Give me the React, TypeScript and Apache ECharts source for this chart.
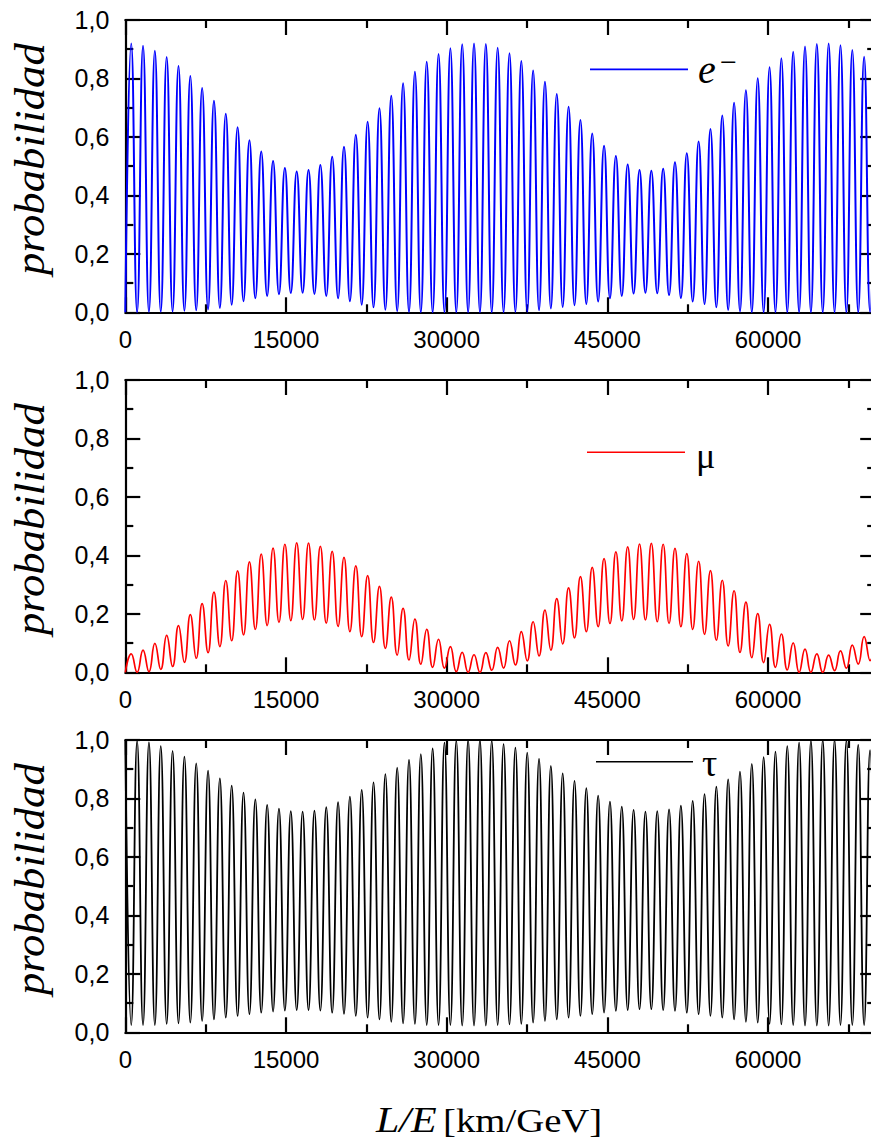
import React, { useEffect, useRef } from "react";
import * as echarts from "echarts";

// Positions (km/GeV) of successive extrema (half-periods of the fast oscillation)
const X_EXTREMA = [
  0, 552, 1103, 1655, 2207, 2759, 3310, 3862, 4414, 4965,
  5517, 6069, 6620, 7172, 7724, 8276, 8827, 9379, 9931, 10482,
  11034, 11586, 12137, 12689, 13241, 13793, 14344, 14896, 15448, 15999,
  16551, 17103, 17654, 18206, 18758, 19310, 19861, 20413, 20965, 21516,
  22068, 22620, 23171, 23723, 24275, 24827, 25378, 25930, 26482, 27033,
  27585, 28137, 28688, 29240, 29792, 30344, 30895, 31447, 31999, 32550,
  33102, 33654, 34205, 34757, 35309, 35861, 36412, 36964, 37516, 38067,
  38619, 39171, 39722, 40274, 40826, 41378, 41929, 42481, 43033, 43584,
  44136, 44688, 45239, 45791, 46343, 46895, 47446, 47998, 48550, 49101,
  49653, 50205, 50756, 51308, 51860, 52412, 52963, 53515, 54067, 54618,
  55170, 55722, 56273, 56825, 57377, 57929, 58480, 59032, 59584, 60135,
  60687, 61239, 61790, 62342, 62894, 63446, 63997, 64549, 65101, 65652,
  66204, 66756, 67307, 67859, 68411, 68963, 69514, 70066,
];

// e- : maxima (odd extrema) and minima (even extrema)
const E_PEAKS = [
  0.92, 0.912, 0.895, 0.873, 0.843, 0.808, 0.767, 0.724, 0.679, 0.633,
  0.589, 0.55, 0.518, 0.494, 0.482, 0.487, 0.504, 0.532, 0.566, 0.607,
  0.652, 0.698, 0.741, 0.784, 0.823, 0.857, 0.884, 0.903, 0.917, 0.92,
  0.918, 0.905, 0.886, 0.86, 0.827, 0.789, 0.747, 0.703, 0.658, 0.612,
  0.57, 0.535, 0.506, 0.487, 0.484, 0.491, 0.513, 0.544, 0.584, 0.627,
  0.673, 0.717, 0.76, 0.801, 0.838, 0.869, 0.891, 0.909, 0.918, 0.92,
  0.914, 0.897, 0.874, 0.845,
];
const E_TROUGHS = [
  0, 0, 0.001, 0.002, 0.003, 0.005, 0.007, 0.01, 0.015, 0.026,
  0.038, 0.048, 0.056, 0.062, 0.066, 0.067, 0.063, 0.056, 0.048, 0.038,
  0.026, 0.017, 0.009, 0.004, 0.001, 0, 0, 0, 0, 0,
  0, 0, 0, 0.001, 0.002, 0.007, 0.013, 0.018, 0.024, 0.028,
  0.037, 0.048, 0.056, 0.064, 0.067, 0.065, 0.059, 0.049, 0.037, 0.028,
  0.017, 0.008, 0.003, 0, 0, 0, 0, 0, 0, 0,
  0, 0, 0, 0.001,
];

// mu : maxima (odd extrema) and minima (even extrema)
const MU_PEAKS = [
  0.063, 0.076, 0.099, 0.126, 0.16, 0.197, 0.235, 0.274, 0.314, 0.347,
  0.378, 0.404, 0.425, 0.438, 0.443, 0.442, 0.431, 0.414, 0.393, 0.364,
  0.331, 0.294, 0.257, 0.219, 0.182, 0.147, 0.113, 0.088, 0.068, 0.06,
  0.067, 0.085, 0.108, 0.139, 0.173, 0.213, 0.252, 0.289, 0.327, 0.359,
  0.389, 0.412, 0.429, 0.439, 0.441, 0.438, 0.424, 0.406, 0.38, 0.348,
  0.315, 0.279, 0.24, 0.201, 0.164, 0.131, 0.101, 0.079, 0.063, 0.059,
  0.073, 0.093, 0.122, 0.15,
];
const MU_TROUGHS = [
  0, 0, 0.002, 0.01, 0.02, 0.034, 0.048, 0.067, 0.088, 0.108,
  0.128, 0.147, 0.16, 0.171, 0.177, 0.181, 0.179, 0.168, 0.157, 0.139,
  0.122, 0.102, 0.082, 0.059, 0.042, 0.028, 0.017, 0.014, 0.002, 0,
  0, 0.007, 0.014, 0.025, 0.039, 0.056, 0.076, 0.097, 0.118, 0.139,
  0.156, 0.167, 0.176, 0.181, 0.179, 0.173, 0.167, 0.156, 0.147, 0.13,
  0.11, 0.09, 0.068, 0.05, 0.033, 0.017, 0.008, 0, 0, 0,
  0.006, 0.014, 0.028, 0.04,
];

// tau : maxima (even extrema) and minima (odd extrema)
const TAU_PEAKS = [
  1.0, 0.997, 0.992, 0.979, 0.963, 0.943, 0.92, 0.895, 0.869, 0.844,
  0.82, 0.797, 0.778, 0.765, 0.757, 0.755, 0.758, 0.77, 0.787, 0.806,
  0.829, 0.855, 0.883, 0.905, 0.932, 0.952, 0.971, 0.991, 0.998, 1.0,
  1.0, 0.998, 0.986, 0.974, 0.957, 0.935, 0.911, 0.886, 0.86, 0.835,
  0.81, 0.789, 0.772, 0.761, 0.755, 0.757, 0.763, 0.775, 0.792, 0.815,
  0.84, 0.865, 0.892, 0.918, 0.941, 0.96, 0.979, 0.991, 0.998, 1.0,
  1.0, 0.998, 0.983, 0.965,
];
const TAU_TROUGHS = [
  0.025, 0.025, 0.025, 0.029, 0.031, 0.033, 0.039, 0.044, 0.05, 0.056,
  0.062, 0.067, 0.071, 0.074, 0.076, 0.076, 0.074, 0.067, 0.063, 0.056,
  0.05, 0.044, 0.036, 0.031, 0.029, 0.025, 0.025, 0.025, 0.023, 0.023,
  0.023, 0.025, 0.027, 0.029, 0.033, 0.039, 0.044, 0.05, 0.056, 0.062,
  0.067, 0.073, 0.076, 0.079, 0.079, 0.076, 0.073, 0.067, 0.062, 0.056,
  0.05, 0.044, 0.036, 0.033, 0.029, 0.027, 0.025, 0.023, 0.023, 0.023,
  0.025, 0.025, 0.025, 0.025,
];

const Y_TICK_LABELS = ["0,0", "0,2", "0,4", "0,6", "0,8", "1,0"];
const X_TICK_LABELS = ["0", "15000", "30000", "45000", "60000", "75000"];
const LEGEND_NAMES = ["e", "μ", "τ"];
const Y_NAME = "probabilidad";
const X_NAME_ITALIC = "L/E";
const X_NAME_UNIT = "[km/GeV]";

const SANS = "'Liberation Sans', Arial, sans-serif";
const SERIF = "'Liberation Serif', 'Times New Roman', serif";

const GRID_LEFT = 125.3;
const GRID_W = 803.5; // 0..75000
const GRID_H = 292.3;
const TOPS = [20, 380, 740];
const RIGHT_OFFSET = -53.6; // right spine sits at 70000

function eData() {
  return X_EXTREMA.map((x, i) => [x, i % 2 === 0 ? E_TROUGHS[i / 2] : E_PEAKS[(i - 1) / 2]]);
}
function muData() {
  return X_EXTREMA.map((x, i) => [x, i % 2 === 0 ? MU_TROUGHS[i / 2] : MU_PEAKS[(i - 1) / 2]]);
}
function tauData() {
  return X_EXTREMA.map((x, i) => [x, i % 2 === 0 ? TAU_PEAKS[i / 2] : TAU_TROUGHS[(i - 1) / 2]]);
}

function xAxisFor(p: number, pos: "bottom" | "top") {
  return {
    gridIndex: p,
    type: "value",
    position: pos,
    min: 0,
    max: 75000,
    interval: 15000,
    axisLine: { show: true, onZero: false, lineStyle: { color: "#000", width: 2.2 } },
    axisTick: { show: true, inside: true, length: 15, lineStyle: { color: "#000", width: 2.2 } },
    minorTick: { show: true, splitNumber: 2, length: 8, lineStyle: { color: "#000", width: 2.2 } },
    axisLabel: {
      show: pos === "bottom",
      margin: 15,
      color: "#000",
      fontSize: 24,
      fontFamily: SANS,
      showMaxLabel: false,
      formatter: (v: number) => X_TICK_LABELS[Math.round(v / 15000)] ?? "",
    },
    splitLine: { show: false },
    minorSplitLine: { show: false },
  };
}

function yAxisFor(p: number, pos: "left" | "right") {
  return {
    gridIndex: p,
    type: "value",
    position: pos,
    offset: pos === "right" ? RIGHT_OFFSET : 0,
    min: 0,
    max: 1,
    interval: 0.2,
    axisLine: { show: true, onZero: false, lineStyle: { color: "#000", width: 2.2 } },
    axisTick: { show: true, inside: true, length: 15, lineStyle: { color: "#000", width: 2.2 } },
    minorTick: { show: true, splitNumber: 2, length: 8, lineStyle: { color: "#000", width: 2.2 } },
    axisLabel: {
      show: pos === "left",
      margin: 16,
      color: "#000",
      fontSize: 25,
      fontFamily: SANS,
      formatter: (v: number) => Y_TICK_LABELS[Math.round(v * 5)] ?? "",
    },
    splitLine: { show: false },
    minorSplitLine: { show: false },
  };
}

function txt(
  text: string,
  x: number,
  y: number,
  font: string,
  align: string,
  extra: Record<string, unknown> = {}
) {
  return {
    type: "text",
    x,
    y,
    ...extra,
    style: {
      text,
      font,
      fill: "#000",
      align,
      textAlign: align,
      verticalAlign: "middle",
      textVerticalAlign: "middle",
    },
  };
}

export default function App() {
  const ref = useRef<HTMLDivElement>(null);

  useEffect(() => {
    if (!ref.current) return;
    const chart = echarts.init(ref.current, undefined, { renderer: "svg" });

    const grids = TOPS.map((t) => ({
      left: GRID_LEFT,
      top: t,
      width: GRID_W,
      height: GRID_H,
      containLabel: false,
      outerBoundsMode: "none",
    }));
    const xAxes: any[] = [];
    const yAxes: any[] = [];
    for (let p = 0; p < 3; p++) {
      xAxes.push(xAxisFor(p, "bottom"), xAxisFor(p, "top"));
      yAxes.push(yAxisFor(p, "left"), yAxisFor(p, "right"));
    }

    const colors = ["#0000ff", "#ff0000", "#000000"];
    const datas = [eData(), muData(), tauData()];
    const widths = [2, 1.7, 1.8];
    const series = datas.map((d, p) => ({
      type: "line",
      name: LEGEND_NAMES[p],
      xAxisIndex: 2 * p,
      yAxisIndex: 2 * p,
      data: d,
      smooth: 0.5,
      showSymbol: false,
      symbol: "none",
      clip: true,
      silent: true,
      lineStyle: { color: colors[p], width: widths[p] },
    }));

    const graphic: any[] = [];
    // y axis names
    TOPS.forEach((t) => {
      graphic.push(
        txt(Y_NAME, 29, t + GRID_H / 2 - 7, `italic 43px ${SERIF}`, "center", {
          rotation: Math.PI / 2,
          scaleX: 1.04,
        })
      );
    });
    // legends
    graphic.push({ type: "line", shape: { x1: 590, y1: 69.3, x2: 688, y2: 69.3 }, style: { stroke: colors[0], lineWidth: 1.8 } });
    graphic.push(txt(LEGEND_NAMES[0], 698, 69.8, `italic 40px ${SERIF}`, "left"));
    graphic.push(txt("−", 720, 61.4, `30px ${SERIF}`, "left"));
    graphic.push({ type: "line", shape: { x1: 587, y1: 452.3, x2: 685, y2: 452.3 }, style: { stroke: colors[1], lineWidth: 1.6 } });
    graphic.push(txt(LEGEND_NAMES[1], 696, 455.5, `36px ${SERIF}`, "left"));
    graphic.push({ type: "line", shape: { x1: 596, y1: 761.7, x2: 693, y2: 761.7 }, style: { stroke: colors[2], lineWidth: 1.6 } });
    graphic.push(txt(LEGEND_NAMES[2], 702, 763, `38px ${SERIF}`, "left"));
    // x axis title
    graphic.push(txt(X_NAME_ITALIC, 376, 1120, `italic 35px ${SERIF}`, "left", { scaleX: 1.2 }));
    graphic.push(txt(X_NAME_UNIT, 443, 1120.5, `34px ${SERIF}`, "left", { scaleX: 1.14 }));

    chart.setOption({
      animation: false,
      grid: grids,
      xAxis: xAxes,
      yAxis: yAxes,
      series,
      graphic,
    });

    return () => chart.dispose();
  }, []);

  return (
    <div
      ref={ref}
      style={{ position: "fixed", left: 0, top: 0, width: 871, height: 1140, background: "#fff" }}
    />
  );
}
